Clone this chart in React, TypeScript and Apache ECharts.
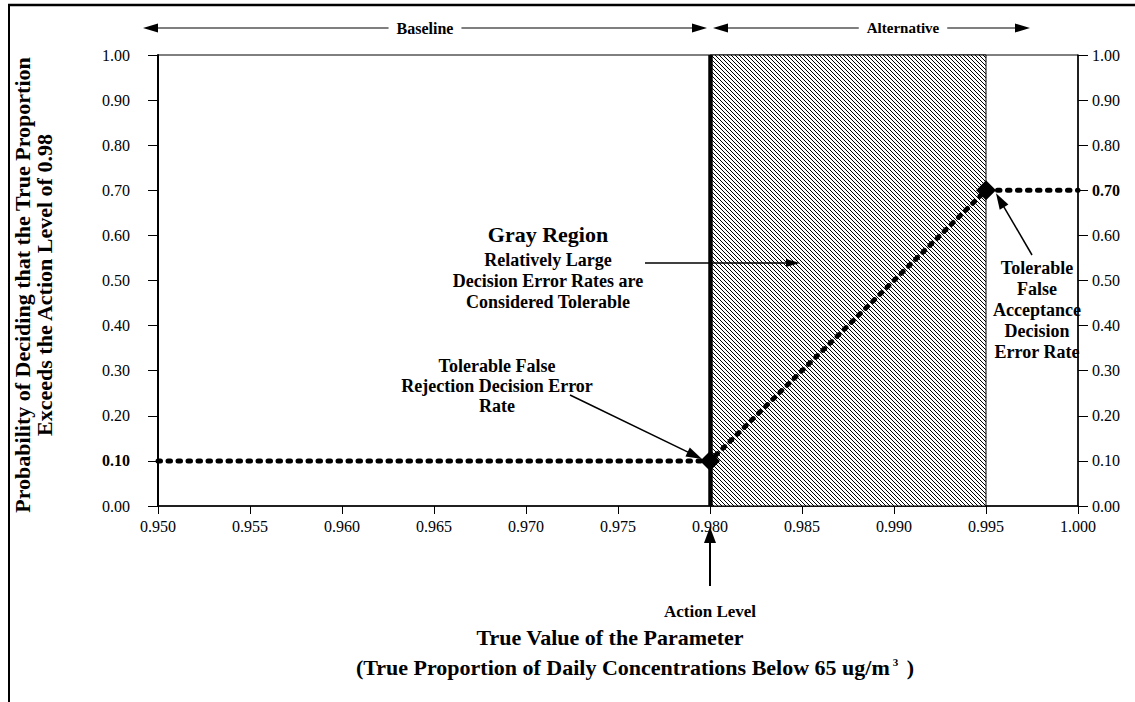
import React, { useEffect, useRef } from "react";
import * as echarts from "echarts";

// ---- data ----
const xValues = [0.95, 0.98, 0.995, 1.0];
const probValues = [0.1, 0.1, 0.7, 0.7];
const diamondAt = [false, true, true, false];
const actionLevel = 0.98;
const grayRegion = [0.98, 0.995];
const xRange = [0.95, 1.0];
const xInterval = 0.005;
const yRange = [0, 1];
const yInterval = 0.1;
const boldLeftTick = 0.1;
const boldRightTick = 0.7;

const FONT = '"Liberation Serif", "Times New Roman", serif';

function makeHatch() {
  const p = 4;
  const c = document.createElement("canvas");
  c.width = p;
  c.height = p;
  const ctx = c.getContext("2d")!;
  ctx.fillStyle = "#fff";
  ctx.fillRect(0, 0, p, p);
  ctx.strokeStyle = "#000";
  ctx.lineWidth = 1;
  for (const k of [-p, 0, p]) {
    ctx.beginPath();
    ctx.moveTo(k, 0);
    ctx.lineTo(k + p, p);
    ctx.stroke();
  }
  return c;
}

function arrow(x1: number, y1: number, x2: number, y2: number, hl = 14, hw = 4.5, lw = 1.5) {
  const dx = x2 - x1;
  const dy = y2 - y1;
  const len = Math.sqrt(dx * dx + dy * dy);
  const ux = dx / len;
  const uy = dy / len;
  const bx = x2 - ux * hl;
  const by = y2 - uy * hl;
  const px = -uy;
  const py = ux;
  return [
    {
      type: "line",
      z: 90,
      shape: { x1, y1, x2: bx + ux, y2: by + uy },
      style: { stroke: "#000", lineWidth: lw },
      silent: true,
    },
    {
      type: "polygon",
      z: 90,
      shape: {
        points: [
          [x2, y2],
          [bx + px * hw, by + py * hw],
          [bx - px * hw, by - py * hw],
        ],
      },
      style: { fill: "#000" },
      silent: true,
    },
  ];
}

function txt(text: string, x: number, y: number, size: number, extra: any = {}) {
  return {
    type: "text",
    x,
    y,
    z: 100,
    silent: true,
    style: {
      text,
      fontFamily: FONT,
      fontSize: size,
      fontWeight: "bold",
      fill: "#000",
      textAlign: "center",
      textVerticalAlign: "middle",
      ...extra,
    },
  };
}

export default function App() {
  const ref = useRef<HTMLDivElement>(null);

  useEffect(() => {
    if (!ref.current) return;
    const chart = echarts.init(ref.current, null, { renderer: "svg" });
    const hatch = makeHatch();

    const seriesData = xValues.map((x, i) => ({
      value: [x, probValues[i]],
      symbol: diamondAt[i] ? "diamond" : "none",
      symbolSize: diamondAt[i] ? 20 : 0,
    }));

    const yLabel = (bold: number) => ({
      fontFamily: FONT,
      fontSize: 16,
      color: "#000",
      formatter: (v: number) =>
        Math.abs(v - bold) < 1e-6 ? `{b|${v.toFixed(2)}}` : v.toFixed(2),
      rich: {
        b: { fontFamily: FONT, fontSize: 16, fontWeight: "bold", color: "#000" },
      },
    });

    const option: any = {
      animation: false,
      backgroundColor: "#fff",
      grid: {
        left: 158,
        right: 57,
        top: 55,
        bottom: 196,
        show: true,
        borderColor: "#000",
        borderWidth: 1,
        backgroundColor: "transparent",
      },
      xAxis: {
        type: "value",
        min: xRange[0],
        max: xRange[1],
        interval: xInterval,
        splitLine: { show: false },
        axisLine: { show: true, onZero: false, lineStyle: { color: "#000", width: 1.5 } },
        axisTick: { show: true, length: 8, lineStyle: { color: "#000", width: 1 } },
        axisLabel: {
          fontFamily: FONT,
          fontSize: 16,
          color: "#000",
          margin: 12,
          formatter: (v: number) => v.toFixed(3),
        },
      },
      yAxis: [
        {
          type: "value",
          position: "left",
          min: yRange[0],
          max: yRange[1],
          interval: yInterval,
          splitLine: { show: false },
          axisLine: { show: true, lineStyle: { color: "#000", width: 2 } },
          axisTick: { show: true, length: 10, lineStyle: { color: "#000", width: 1 } },
          axisLabel: { ...yLabel(boldLeftTick), margin: 28 },
        },
        {
          type: "value",
          position: "right",
          min: yRange[0],
          max: yRange[1],
          interval: yInterval,
          splitLine: { show: false },
          axisLine: { show: true, lineStyle: { color: "#000", width: 1.5 } },
          axisTick: { show: true, length: 10, lineStyle: { color: "#000", width: 1 } },
          axisLabel: { ...yLabel(boldRightTick), margin: 14 },
        },
      ],
      series: [
        {
          type: "line",
          xAxisIndex: 0,
          yAxisIndex: 0,
          data: seriesData,
          showSymbol: true,
          showAllSymbol: true,
          itemStyle: { color: "#000" },
          lineStyle: { color: "#000", width: 5, type: [2.5, 7.5], cap: "round" },
          z: 5,
          markArea: {
            silent: true,
            itemStyle: {
              color: { image: hatch, repeat: "repeat" },
              borderColor: "#000",
              borderWidth: 1,
            },
            data: [
              [
                { xAxis: grayRegion[0], yAxis: yRange[0] },
                { xAxis: grayRegion[1], yAxis: yRange[1] },
              ],
            ],
          },
          markLine: {
            silent: true,
            symbol: "none",
            label: { show: false },
            lineStyle: { color: "#000", width: 4.5, type: "solid" },
            data: [{ xAxis: actionLevel }],
          },
        },
      ],
    };

    chart.setOption(option);

    const toPx = (v: number[]) => chart.convertToPixel({ xAxisIndex: 0, yAxisIndex: 0 }, v);
    const pA = toPx([xValues[1], probValues[1]]);
    const pB = toPx([xValues[2], probValues[2]]);
    const ax = pA[0];
    const axisBottom = toPx([actionLevel, yRange[0]])[1];

    const graphics: any[] = [
      // outer frame
      { type: "line", shape: { x1: 8, y1: 5, x2: 1135, y2: 5 }, style: { stroke: "#000", lineWidth: 2.5 }, silent: true },
      { type: "line", shape: { x1: 9, y1: 5, x2: 9, y2: 702 }, style: { stroke: "#000", lineWidth: 2 }, silent: true },
      // Baseline arrow
      ...arrow(ax - 150, 28, 143, 28, 15, 4.5, 1.2),
      ...arrow(ax - 150, 28, ax - 3, 28, 15, 4.5, 1.2),
      txt("Baseline", 425, 28, 16, { backgroundColor: "#fff", padding: [0, 8] }),
      // Alternative arrow
      ...arrow(900, 28, ax + 3, 28, 15, 4.5, 1.2),
      ...arrow(900, 28, 1030, 28, 15, 4.5, 1.2),
      txt("Alternative", 903, 28, 15, { backgroundColor: "#fff", padding: [0, 8] }),
      // Action level arrow
      ...arrow(ax, axisBottom + 80, ax, axisBottom + 21, 16, 6, 2),
      txt("Action Level", ax, 611, 17),
      // axis titles
      txt("True Value of the Parameter", 610, 637, 22),
      {
        type: "text",
        x: 635,
        y: 667,
        z: 100,
        silent: true,
        style: {
          text: "{a|(True Proportion of Daily Concentrations Below 65 ug/m}{s|3}{a| )}",
          textAlign: "center",
          textVerticalAlign: "middle",
          rich: {
            a: { fontFamily: FONT, fontSize: 22, fontWeight: "bold", fill: "#000" },
            s: { fontFamily: FONT, fontSize: 11, fontWeight: "bold", fill: "#000", verticalAlign: "top", padding: [0, 3, 0, 3] },
          },
        },
      },
      {
        type: "text",
        x: 33,
        y: 285,
        rotation: Math.PI / 2,
        z: 100,
        silent: true,
        style: {
          text: "Probability of Deciding that the True Proportion\nExceeds the Action Level of 0.98",
          fontFamily: FONT,
          fontSize: 22,
          fontWeight: "bold",
          fill: "#000",
          textAlign: "center",
          textVerticalAlign: "middle",
          lineHeight: 22,
        },
      },
      // Gray region label
      txt("Gray Region", 548, 234, 22),
      txt("Relatively Large\nDecision Error Rates are\nConsidered Tolerable", 548, 281, 18, { lineHeight: 21 }),
      ...arrow(645, 263, ax + 90, 263, 14, 4, 1.5),
      // False rejection label
      txt("Tolerable False\nRejection Decision Error\nRate", 497, 386, 18, { lineHeight: 20 }),
      ...arrow(570, 395, pA[0] - 8, pA[1] - 2, 16, 5, 1.5),
      // False acceptance label
      txt("Tolerable\nFalse\nAcceptance\nDecision\nError Rate", 1037, 310, 18, { lineHeight: 21 }),
      ...arrow(1032, 255, pB[0] + 10, pB[1] + 3, 16, 5, 1.5),
    ];

    chart.setOption({ graphic: graphics });

    return () => chart.dispose();
  }, []);

  return (
    <div
      ref={ref}
      style={{ position: "absolute", left: 0, top: 0, width: 1135, height: 702, background: "#fff" }}
    />
  );
}
